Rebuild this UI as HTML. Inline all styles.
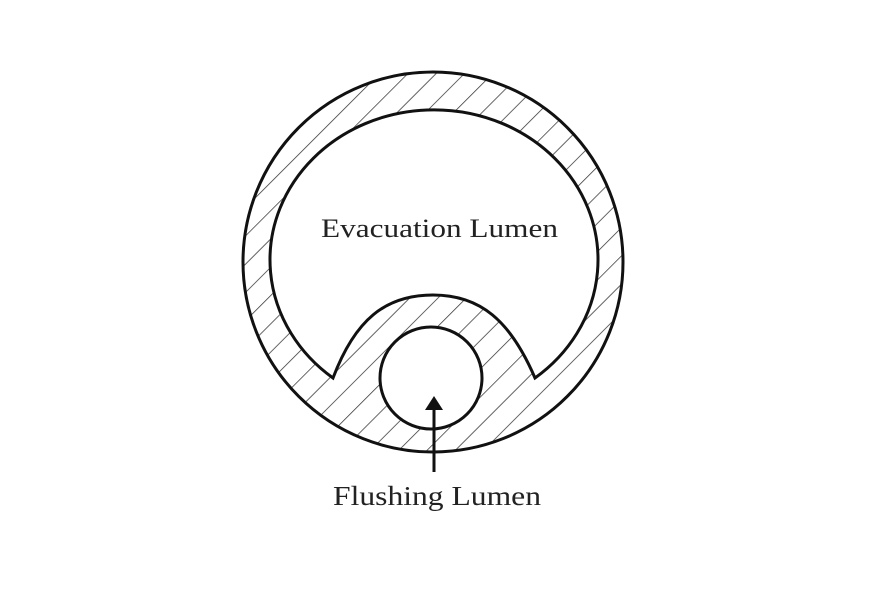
<!DOCTYPE html>
<html><head><style>html,body{margin:0;padding:0;background:#fff;}</style></head>
<body>
<svg width="887" height="584" viewBox="0 0 887 584" xmlns="http://www.w3.org/2000/svg">
<defs>
<pattern id="h" patternUnits="userSpaceOnUse" width="20" height="20" patternTransform="rotate(-45)">
<line x1="0" y1="0" x2="20" y2="0" stroke="#333" stroke-width="1.4"/>
</pattern>
</defs>
<path fill-rule="evenodd" fill="url(#h)" d="M433,72 a190,190 0 1,0 0.01,0 Z M333,378 A164,150 0 1,1 535,378 C510,320 480,295 433,295 C385,295 355,320 333,378 Z M431,378 m-51,0 a51,51 0 1,0 102,0 a51,51 0 1,0 -102,0 Z"/>
<circle cx="433" cy="262" r="190" fill="none" stroke="#111" stroke-width="3"/>
<path d="M333,378 A164,150 0 1,1 535,378 C510,320 480,295 433,295 C385,295 355,320 333,378 Z" fill="#fff" stroke="#111" stroke-width="3"/>
<circle cx="431" cy="378" r="51" fill="#fff" stroke="#111" stroke-width="3"/>
<line x1="434" y1="408" x2="434" y2="472" stroke="#111" stroke-width="3"/>
<polygon points="434,396 425,410 443,410" fill="#111"/>
<text x="321" y="237" font-family="Liberation Serif, serif" font-size="26" textLength="237" lengthAdjust="spacingAndGlyphs" fill="#222">Evacuation Lumen</text>
<text x="333" y="505" font-family="Liberation Serif, serif" font-size="27" textLength="208" lengthAdjust="spacingAndGlyphs" fill="#222">Flushing Lumen</text>
</svg>
</body></html>
